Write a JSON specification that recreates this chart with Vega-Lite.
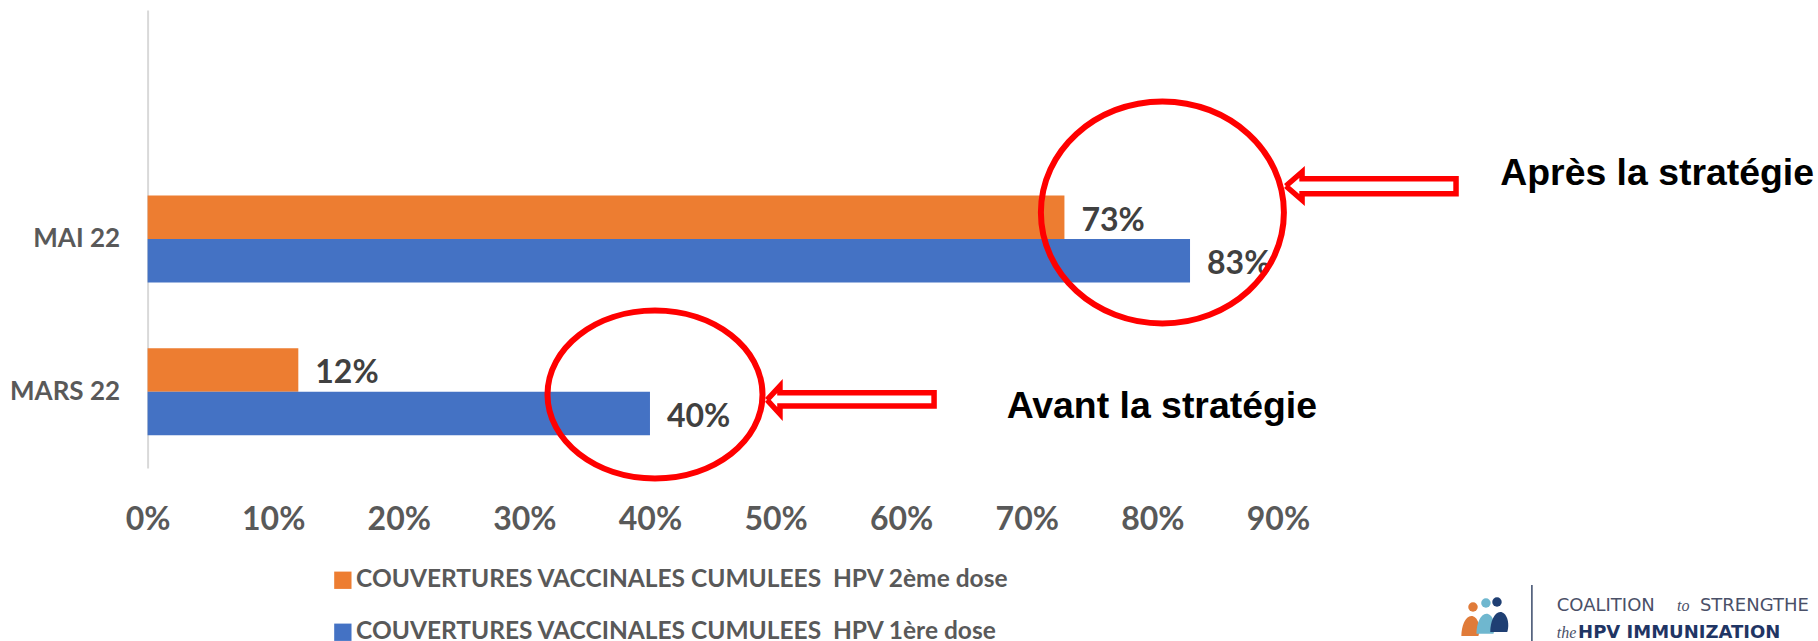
{
"$schema":"https://vega.github.io/schema/vega-lite/v6.json",
"width":1670.4,"height":458,
"autosize":{"type":"none"},
"padding":{"left":147.6,"top":10,"right":0,"bottom":173},
"background":"white",
"config":{"view":{"stroke":null}},
"datasets":{
"bars":[
{"mois":"MAI 22","dose":"COUVERTURES VACCINALES CUMULEES  HPV 2ème dose","pct":73,"label":"73%"},
{"mois":"MAI 22","dose":"COUVERTURES VACCINALES CUMULEES  HPV 1ère dose","pct":83,"label":"83%"},
{"mois":"MARS 22","dose":"COUVERTURES VACCINALES CUMULEES  HPV 2ème dose","pct":12,"label":"12%"},
{"mois":"MARS 22","dose":"COUVERTURES VACCINALES CUMULEES  HPV 1ère dose","pct":40,"label":"40%"}
],
"arrows":[
{"id":"a","seq":1,"x":90.63,"y":61.57},{"id":"a","seq":2,"x":91.92,"y":64.63},{"id":"a","seq":3,"x":91.92,"y":63.17},{"id":"a","seq":4,"x":104.18,"y":63.17},{"id":"a","seq":5,"x":104.18,"y":59.89},{"id":"a","seq":6,"x":91.92,"y":59.89},{"id":"a","seq":7,"x":91.92,"y":58.52},{"id":"a","seq":8,"x":90.63,"y":61.57},
{"id":"b","seq":1,"x":49.32,"y":14.85},{"id":"b","seq":2,"x":50.35,"y":17.9},{"id":"b","seq":3,"x":50.35,"y":16.44},{"id":"b","seq":4,"x":62.62,"y":16.44},{"id":"b","seq":5,"x":62.62,"y":13.54},{"id":"b","seq":6,"x":50.35,"y":13.54},{"id":"b","seq":7,"x":50.35,"y":11.79},{"id":"b","seq":8,"x":49.32,"y":14.85}
],
"notes":[
{"x":107.7,"y":61.8,"t":"Après la stratégie"},
{"x":68.4,"y":11.0,"t":"Avant la stratégie"}
],
"logoHeads":[{"x":105.53,"y":-30.35,"p":"o"},{"x":106.56,"y":-29.48,"p":"t"},{"x":107.44,"y":-29.26,"p":"n"}],
"logoBodies":[{"x":105.4,"y":-34.5,"p":"o"},{"x":106.6,"y":-34.0,"p":"t"},{"x":107.7,"y":-33.6,"p":"n"}],
"logoLine":[{"x":110.22,"y":-25.55,"y2":-37.8}],
"logoRegular":[{"x":112.2,"y":-31.16,"t":"COALITION"},{"x":123.6,"y":-31.16,"t":"STRENGTHE"}],
"logoItalic":[{"x":121.77,"y":-31.16,"t":"to"},{"x":112.2,"y":-37.1,"t":"the"}],
"logoBold":[{"x":113.9,"y":-37.1,"t":"HPV IMMUNIZATION"}]
},
"resolve":{"scale":{"y":"independent","color":"independent"},"axis":{"y":"independent"}},
"layer":[
{"data":{"name":"bars"},"mark":{"type":"bar"},
"encoding":{
"x":{"field":"pct","type":"quantitative","scale":{"domain":[0,133],"nice":false,"zero":true},
"axis":{"values":[0,10,20,30,40,50,60,70,80,90],"labelExpr":"datum.value + '%'","title":null,"grid":false,"domain":false,"ticks":false,"labelFlush":false,"labelOverlap":false,"labelFont":"Lato","labelFontWeight":"bold","labelFontSize":32,"labelColor":"#595959","labelPadding":36}},
"y":{"field":"mois","type":"nominal","scale":{"domain":[" ","MAI 22","MARS 22"],"paddingInner":0.43,"paddingOuter":0.215},
"axis":{"title":null,"ticks":false,"domainColor":"#d9d9d9","domainWidth":2,"labelFont":"Lato","labelFontWeight":"bold","labelFontSize":26,"labelColor":"#595959","labelPadding":28}},
"yOffset":{"field":"dose","type":"nominal","scale":{"domain":["COUVERTURES VACCINALES CUMULEES  HPV 2ème dose","COUVERTURES VACCINALES CUMULEES  HPV 1ère dose"],"paddingInner":0,"paddingOuter":0}},
"color":{"field":"dose","type":"nominal","scale":{"domain":["COUVERTURES VACCINALES CUMULEES  HPV 2ème dose","COUVERTURES VACCINALES CUMULEES  HPV 1ère dose"],"range":["#ED7D31","#4472C4"]},
"legend":{"title":null,"orient":"none","legendX":183,"legendY":558,"padding":0,"symbolType":"square","symbolSize":300,"symbolStrokeWidth":0,"labelFont":"Lato","labelFontWeight":"bold","labelFontSize":24.5,"labelColor":"#595959","labelLimit":900,"rowPadding":27,"labelOffset":1,"labelExpr":"replace(datum.label, '  ', '\u00a0\u00a0')"}}
}},
{"data":{"name":"bars"},"mark":{"type":"text","font":"Lato","fontWeight":"bold","fontSize":32,"color":"#404040","align":"left","baseline":"middle","dx":17,"dy":3.5},
"encoding":{
"x":{"field":"pct","type":"quantitative"},
"y":{"field":"mois","type":"nominal","scale":{"domain":[" ","MAI 22","MARS 22"],"paddingInner":0.43,"paddingOuter":0.215},"axis":null},
"yOffset":{"field":"dose","type":"nominal","scale":{"domain":["COUVERTURES VACCINALES CUMULEES  HPV 2ème dose","COUVERTURES VACCINALES CUMULEES  HPV 1ère dose"],"paddingInner":0,"paddingOuter":0}},
"text":{"field":"label"}
}},
{"data":{"values":[{"x":80.8,"y":55.8}]},"mark":{"type":"point","shape":"M-1,0A1,0.9136 0 1 0 1,0A1,0.9136 0 1 0 -1,0Z","size":59049,"filled":false,"stroke":"#FF0000","strokeWidth":6,"opacity":1},
"encoding":{"x":{"field":"x","type":"quantitative"},"y":{"field":"y","type":"quantitative","scale":{"domain":[0,100],"nice":false,"zero":false},"axis":null}}},
{"data":{"values":[{"x":40.4,"y":16.05}]},"mark":{"type":"point","shape":"M-1,0A1,0.781 0 1 0 1,0A1,0.781 0 1 0 -1,0Z","size":46225,"filled":false,"stroke":"#FF0000","strokeWidth":6,"opacity":1},
"encoding":{"x":{"field":"x","type":"quantitative"},"y":{"field":"y","type":"quantitative","scale":{"domain":[0,100],"nice":false,"zero":false},"axis":null}}},
{"data":{"name":"arrows"},"mark":{"type":"line","stroke":"#FF0000","strokeWidth":5.5,"strokeJoin":"miter"},
"encoding":{"x":{"field":"x","type":"quantitative"},"y":{"field":"y","type":"quantitative","scale":{"domain":[0,100],"nice":false,"zero":false},"axis":null},"detail":{"field":"id"},"order":{"field":"seq","type":"quantitative"}}},
{"data":{"name":"notes"},"mark":{"type":"text","font":"Liberation Sans","fontWeight":"bold","fontSize":37.4,"color":"#000000","align":"left","baseline":"alphabetic"},
"encoding":{"x":{"field":"x","type":"quantitative"},"y":{"field":"y","type":"quantitative","scale":{"domain":[0,100],"nice":false,"zero":false},"axis":null},"text":{"field":"t"}}},
{"data":{"name":"logoHeads"},"mark":{"type":"point","shape":"circle","size":90,"filled":true,"opacity":1},
"encoding":{"x":{"field":"x","type":"quantitative"},"y":{"field":"y","type":"quantitative","scale":{"domain":[0,100],"nice":false,"zero":false},"axis":null},"color":{"field":"p","type":"nominal","scale":{"domain":["o","t","n"],"range":["#E07B39","#6FB7CF","#1F3F73"]},"legend":null}}},
{"data":{"name":"logoBodies"},"mark":{"type":"point","shape":"M-1,1C-1,0 -0.6,-1 0,-1C0.6,-1 1,0 0.7,1Z","size":400,"filled":true,"opacity":1},
"encoding":{"x":{"field":"x","type":"quantitative"},"y":{"field":"y","type":"quantitative","scale":{"domain":[0,100],"nice":false,"zero":false},"axis":null},"color":{"field":"p","type":"nominal","scale":{"domain":["t","o","n"],"range":["#6FB7CF","#E07B39","#1F3F73"]},"legend":null}}},
{"data":{"name":"logoLine"},"mark":{"type":"rule","stroke":"#3A4A6A","strokeWidth":1.5},
"encoding":{"x":{"field":"x","type":"quantitative"},"y":{"field":"y","type":"quantitative","scale":{"domain":[0,100],"nice":false,"zero":false},"axis":null},"y2":{"field":"y2"}}},
{"data":{"name":"logoRegular"},"mark":{"type":"text","font":"DejaVu Sans","fontSize":18,"color":"#4A5068","align":"left","baseline":"alphabetic"},
"encoding":{"x":{"field":"x","type":"quantitative"},"y":{"field":"y","type":"quantitative","scale":{"domain":[0,100],"nice":false,"zero":false},"axis":null},"text":{"field":"t"}}},
{"data":{"name":"logoItalic"},"mark":{"type":"text","font":"Liberation Serif","fontStyle":"italic","fontSize":16,"color":"#4A5068","align":"left","baseline":"alphabetic"},
"encoding":{"x":{"field":"x","type":"quantitative"},"y":{"field":"y","type":"quantitative","scale":{"domain":[0,100],"nice":false,"zero":false},"axis":null},"text":{"field":"t"}}},
{"data":{"name":"logoBold"},"mark":{"type":"text","font":"DejaVu Sans","fontWeight":"bold","fontSize":18,"color":"#1F3564","align":"left","baseline":"alphabetic"},
"encoding":{"x":{"field":"x","type":"quantitative"},"y":{"field":"y","type":"quantitative","scale":{"domain":[0,100],"nice":false,"zero":false},"axis":null},"text":{"field":"t"}}}
]
}
